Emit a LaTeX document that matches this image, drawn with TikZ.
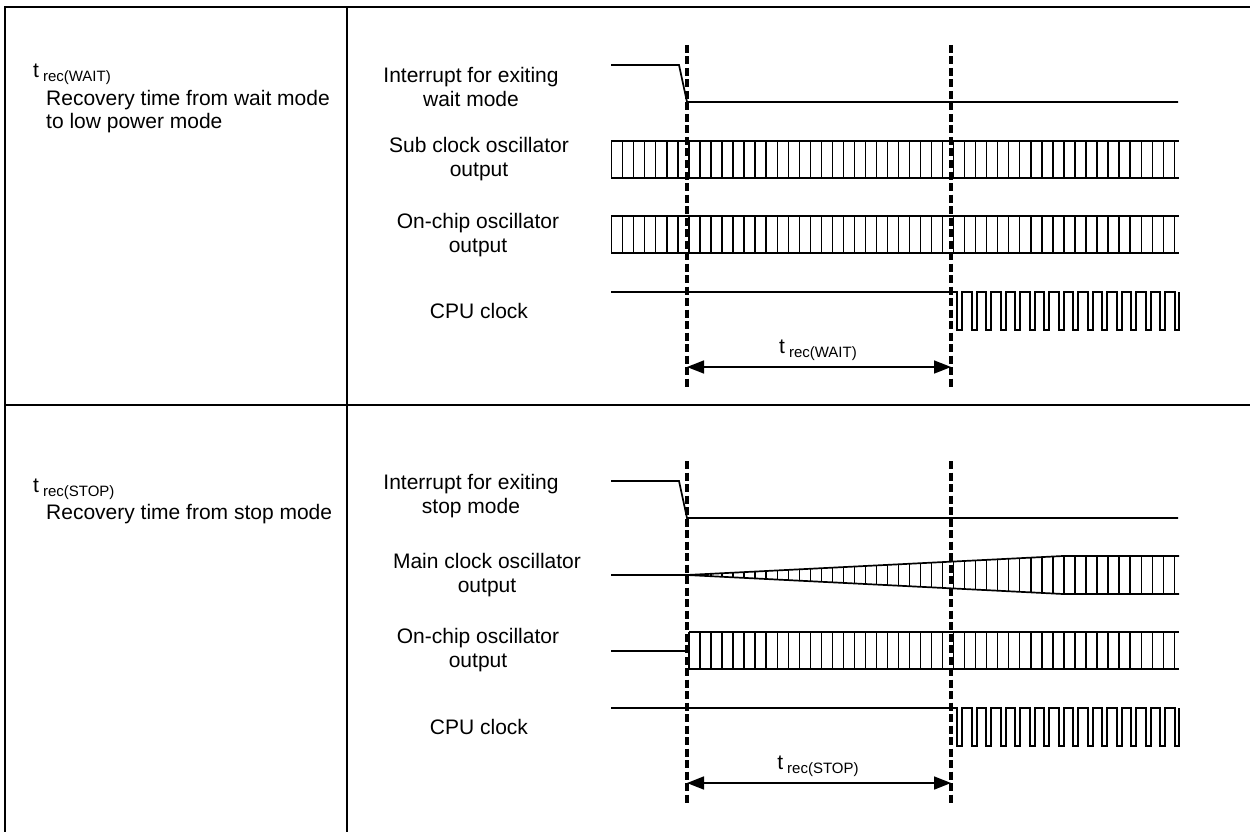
\documentclass[tikz,border=0pt]{standalone}
\usepackage{fontspec}
\setmainfont{Liberation Sans}
\usetikzlibrary{arrows.meta}
\newcommand\tsubx[1]{t\hspace{4pt}\raisebox{-4pt}{\fontsize{15}{15}\selectfont #1}}
\begin{document}
\begin{tikzpicture}[x=1pt,y=-1pt,
  frame/.style={line width=1.8pt},
  wave/.style={line width=1.7pt, line join=miter},
  hatch/.style={line width=1.3pt},
  marker/.style={line width=3.2pt, dash pattern=on 8pt off 3.5pt},
  lbl/.style={font=\fontsize{21}{23.5}\selectfont, align=center, inner sep=0pt, anchor=center},
  side/.style={font=\fontsize{21}{23.5}\selectfont, align=left, inner sep=0pt},
  dim/.style={line width=1.7pt, {Triangle[length=17pt,width=13pt]}-{Triangle[length=17pt,width=13pt]}}]
\useasboundingbox (0,0) rectangle (1250,832);
% frame
\draw[frame] (1250,7) -- (5,7) -- (5,832);
\draw[frame] (347,7) -- (347,832);
\draw[frame] (5,405) -- (1250,405);
% left labels
\node[side, anchor=base west] (tw) at (33,78) {\tsubx{rec(WAIT)}};
\node[side, anchor=north west] (rw) at (46,90) {Recovery time from wait mode\\to low power mode};
\node[side, anchor=base west] (ts) at (33,492) {\tsubx{rec(STOP)}};
\node[side, anchor=north west] (rs) at (46,504) {Recovery time from stop mode};
% signal labels
\node[lbl] (lint1) at (471,87) {Interrupt for exiting\\wait mode};
\node[lbl] (lsub) at (479,159) {Sub clock oscillator\\output};
\node[lbl] (lon1) at (478,235) {On-chip oscillator\\output};
\node[lbl] (lcpu1) at (479,311) {CPU clock};
\node[lbl] (lint2) at (471,496) {Interrupt for exiting\\stop mode};
\node[lbl] (lmain) at (487,575) {Main clock oscillator\\output};
\node[lbl] (lon2) at (478,650) {On-chip oscillator\\output};
\node[lbl] (lcpu2) at (479,727) {CPU clock};
% interrupt and CPU clock, both sections
\foreach \dy in {0,416}{
  \begin{scope}[yshift=-\dy pt]
  \draw[wave] (611,65) -- (679,65) -- (687,102) -- (1178,102);
  \draw[wave] (611,292) foreach \k in {0,...,14} { -- ({957.3+14.5*\k},292) -- ++(0,38) -- ++(5,0) -- ++(0,-38) }
     -- (1174.8,292) -- ++(0,38) -- ++(4.5,0) -- ++(0,-38);
  \end{scope}
}
% sub clock & on-chip (top)
\foreach \yt in {141,216}{
  \draw[wave] (611,\yt) -- (1179,\yt) (611,\yt+37) -- (1179,\yt+37);
  \foreach \k in {0,...,51} \draw[hatch] ({611.7+11.03*\k},\yt) -- ++(0,37);
}
% main clock (bottom)
\draw[wave] (611,575) -- (687,575) -- (1063,556) -- (1179,556);
\draw[wave] (687,575) -- (1063,594) -- (1179,594);
\foreach \k in {8,...,51}{
  \pgfmathsetmacro\xx{611.7+11.03*\k}
  \pgfmathsetmacro\hh{min(19,19*(\xx-687)/376)}
  \draw[hatch] (\xx,575-\hh) -- (\xx,575+\hh);
}
% on-chip (bottom)
\draw[wave] (611,651) -- (688.9,651);
\draw[wave] (688.9,632) -- (1179,632) (688.9,669) -- (1179,669);
\draw[wave] (688.9,632) -- (688.9,669);
\foreach \k in {8,...,51} \draw[hatch] ({611.7+11.03*\k},632) -- ++(0,37);
% markers
\coordinate (a1) at (687,45); \coordinate (a2) at (687,387);
\coordinate (b1) at (951,45); \coordinate (b2) at (951,387);
\coordinate (c1) at (687,461); \coordinate (c2) at (687,803);
\coordinate (d1) at (951,461); \coordinate (d2) at (951,803);
\draw[marker] (a1) -- (a2);
\draw[marker] (b1) -- (b2);
\draw[marker] (c1) -- (c2);
\draw[marker] (d1) -- (d2);
% dimensions
\coordinate (w1) at (687,367); \coordinate (w2) at (951,367);
\coordinate (s1) at (687,783); \coordinate (s2) at (951,783);
\draw[dim] (w1) -- (w2);
\draw[dim] (s1) -- (s2);
\node[side, anchor=base] (dimw) at (818,353) {\tsubx{rec(WAIT)}};
\node[side, anchor=base] (dims) at (818,769) {\tsubx{rec(STOP)}};
\end{tikzpicture}
\end{document}
